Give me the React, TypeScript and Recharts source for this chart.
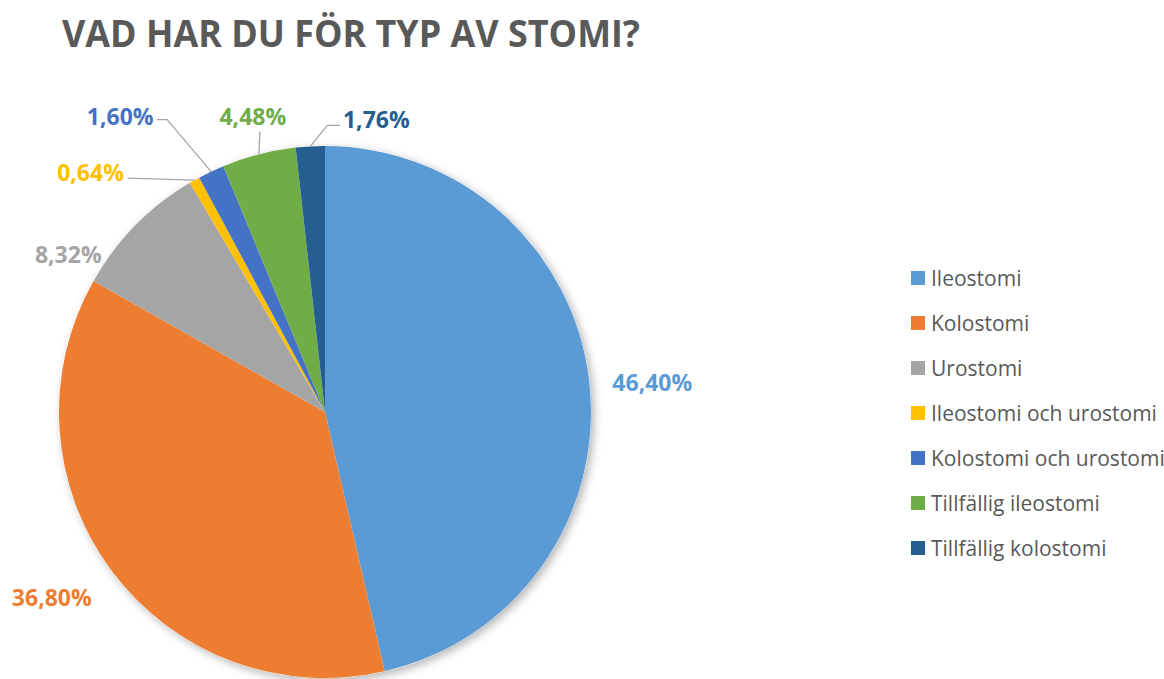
import { Legend, Pie, PieChart, PieLabelRenderProps, Sector, SectorProps } from "recharts";

const categories = [
  "Ileostomi",
  "Kolostomi",
  "Urostomi",
  "Ileostomi och urostomi",
  "Kolostomi och urostomi",
  "Tillfällig ileostomi",
  "Tillfällig kolostomi",
];
const shares = [46.4, 36.8, 8.32, 0.64, 1.6, 4.48, 1.76];
const colors = ["#5B9BD5", "#ED7D31", "#A5A5A5", "#FFC000", "#4472C4", "#70AD47", "#255E91"];

const data = categories.map((name, i) => ({ name, value: shares[i], fill: colors[i] }));

// where each label sits relative to the slice's outer edge, plus optional leader line bends
const labelPlacement: { dx: number; dy: number; line?: [number, number][] }[] = [
  { dx: 63, dy: 0 },
  { dx: -60, dy: 26 },
  { dx: -67, dy: 28 },
  { dx: -104, dy: -8, line: [[-67, -2]] },
  { dx: -91, dy: -56, line: [[-44, -52], [-54, -52]] },
  { dx: -6, dy: -38, line: [[1, -23]] },
  { dx: 66, dy: -27, line: [[17, -21], [30, -21]] },
];

const RAD = Math.PI / 180;
const fmt = (v: number) => v.toFixed(2).replace(".", ",") + "%";

const renderLabel = (props: PieLabelRenderProps) => {
  const { cx, cy, outerRadius, midAngle, index, value } = props as any;
  const ex = cx + outerRadius * Math.cos(-midAngle * RAD);
  const ey = cy + outerRadius * Math.sin(-midAngle * RAD);
  const p = labelPlacement[index];
  const tx = ex + p.dx;
  const ty = ey + p.dy;
  const pts = p.line ? [[ex, ey], ...p.line.map(([x, y]) => [ex + x, ey + y])] : null;
  return (
    <g key={"lbl" + index}>
      {pts && (
        <polyline
          points={pts.map((q) => q.join(",")).join(" ")}
          fill="none"
          stroke="#A6A6A6"
          strokeWidth={1.3}
        />
      )}
      <text
        x={tx}
        y={ty}
        textAnchor="middle"
        dominantBaseline="central"
        fill={colors[index]}
        fontSize={23}
        fontWeight="bold"
        fontFamily="'Open Sans', sans-serif"
      >
        {fmt(value)}
      </text>
    </g>
  );
};

const shadowShape = (props: SectorProps) => <Sector {...props} filter="url(#pieShadow)" />;

const renderLegend = () => (
  <div style={{ fontFamily: "'Open Sans', sans-serif", fontSize: 21, color: "#595959" }}>
    {data.map((d) => (
      <div key={d.name} style={{ display: "flex", alignItems: "center", height: 45 }}>
        <span style={{ width: 14, height: 14, background: d.fill, marginRight: 6, display: "inline-block" }} />
        <span>{d.name}</span>
      </div>
    ))}
  </div>
);

export default function App() {
  return (
    <div style={{ position: "absolute", left: 0, top: 0, background: "#fff" }}>
      <PieChart width={1164} height={679} margin={{ top: 0, right: 0, bottom: 0, left: 0 }}>
        <defs>
          <filter id="pieShadow" x="-20%" y="-20%" width="140%" height="140%">
            <feDropShadow dx="3" dy="3" stdDeviation="5" floodColor="#000" floodOpacity="0.3" />
          </filter>
        </defs>
        <text
          x={62}
          y={47}
          fill="#595959"
          fontSize={37}
          fontWeight="bold"
          fontFamily="'Open Sans', sans-serif"
          textLength={578}
          lengthAdjust="spacingAndGlyphs"
        >
          VAD HAR DU FÖR TYP AV STOMI?
        </text>
        <Pie
          data={[{ name: "bg", value: 1 }]}
          dataKey="value"
          cx={325}
          cy={412}
          outerRadius={266}
          fill="#fff"
          stroke="none"
          shape={shadowShape}
          legendType="none"
          isAnimationActive={false}
        />
        <Pie
          data={data}
          dataKey="value"
          nameKey="name"
          cx={325}
          cy={412}
          outerRadius={266}
          startAngle={90}
          endAngle={-270}
          stroke="none"
          label={renderLabel}
          labelLine={false}
          isAnimationActive={false}
        />
        <Legend
          layout="vertical"
          content={renderLegend}
          wrapperStyle={{ left: 911, top: 255, width: 260 }}
        />
      </PieChart>
    </div>
  );
}
